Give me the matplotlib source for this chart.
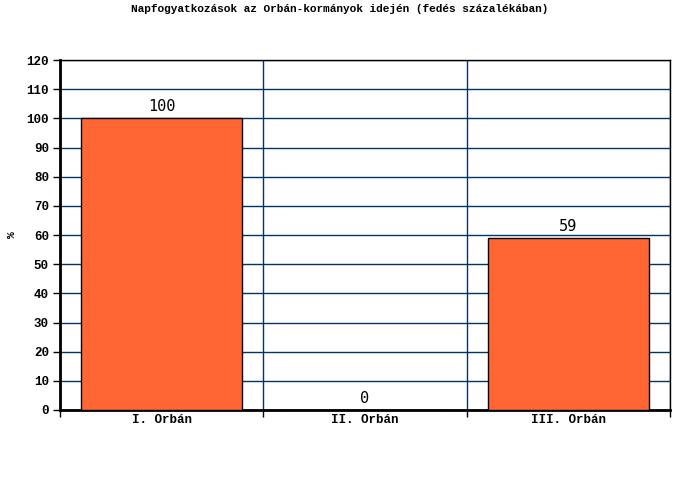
import matplotlib
matplotlib.use("Agg")
from matplotlib import pyplot as plt
import numpy as np

categories = ["I. Orbán", "II. Orbán", "III. Orbán"]
values = [100, 0, 59]
yticks = list(range(0, 121, 10))

mono = "Liberation Mono"
grid_col = "#003366"
bar_col = "#FF6633"

fig = plt.figure(figsize=(6.8, 5.0), dpi=100)
ax = fig.add_axes([60 / 680, 90 / 500, 610 / 680, 350 / 500])

x = np.arange(len(categories))
ax.bar(x, values, width=0.79, color=bar_col, edgecolor="black", linewidth=1, zorder=3)
for xi, v in zip(x, values):
    ax.text(xi, v + 1.5, str(v), ha="center", va="bottom", fontsize=11,
            fontfamily="DejaVu Sans Mono", zorder=4)

ax.set_xlim(-0.5, len(categories) - 0.5)
ax.set_ylim(0, 120)
ax.set_yticks(yticks)
ax.set_yticklabels([str(t) for t in yticks], fontfamily=mono, fontweight="bold", fontsize=9)
ax.set_xticks(x)
ax.set_xticklabels(categories, fontfamily=mono, fontweight="bold", fontsize=9)
ax.set_xticks(np.arange(len(categories) + 1) - 0.5, minor=True)
ax.tick_params(axis="x", which="major", length=0, pad=3)
ax.tick_params(axis="x", which="minor", length=5, width=1, color="black")
ax.tick_params(axis="y", length=5, width=1, pad=3)

ax.grid(axis="y", which="major", color=grid_col, linewidth=1, zorder=0)
ax.grid(axis="x", which="minor", color=grid_col, linewidth=1, zorder=0)
ax.set_axisbelow(True)

ax.spines["left"].set_linewidth(2)
ax.spines["bottom"].set_linewidth(2)
ax.spines["top"].set_linewidth(1)
ax.spines["right"].set_linewidth(1)

ax.set_ylabel("%", fontfamily=mono, fontweight="bold", fontsize=8)
ax.yaxis.set_label_coords(-0.07, 0.5)
fig.suptitle("Napfogyatkozások az Orbán-kormányok idején (fedés százalékában)",
             fontfamily=mono, fontweight="bold", fontsize=8, y=0.993, va="top")

fig.savefig("out.png", dpi=100)
